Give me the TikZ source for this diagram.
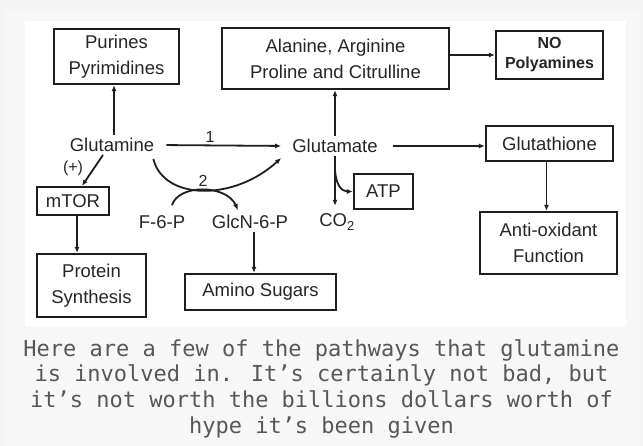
\documentclass[tikz,border=0pt]{standalone}
\usepackage{fontspec}
\setmainfont{Liberation Sans}
\newfontfamily\capfont{DejaVu Sans Mono}
\usepackage{tikz}
\usetikzlibrary{arrows.meta, calc}

\definecolor{pagegrey}{HTML}{F4F4F4}
\definecolor{framegrey}{HTML}{F7F7F7}
\definecolor{inkgrey}{HTML}{262626}
\definecolor{boxline}{HTML}{1E1E1E}
\definecolor{capgrey}{HTML}{575757}
\newcommand\diagfont{\fontsize{18.5}{26}\selectfont}

\begin{document}
\begin{tikzpicture}[x=1pt, y=-1pt]
	% Define styles
	\tikzset{
		box/.style={rectangle, draw=boxline, line width=2.2pt, align=center, inner sep=2pt, font=\diagfont, text=inkgrey},
		metab/.style={font=\diagfont, text=inkgrey, inner sep=3pt},
		tag/.style={font=\fontsize{16}{18}\selectfont, text=inkgrey, inner sep=1pt},
		line/.style={draw=boxline, line width=1.8pt, -{Latex[length=6pt, width=5pt]}},
		caption/.style={font=\capfont\fontsize{22}{25.7}\selectfont, text=capgrey, align=center}
	}

	% Background
	\useasboundingbox (0,0) rectangle (643,446);
	\fill[pagegrey] (0,0) rectangle (643,446);
	\fill[framegrey] (4,10) rectangle (639,446);
	\fill[white] (25,21) rectangle (626,326);

	% Nodes
	\node[box, minimum width=125pt, minimum height=55pt] (purines) at (116.5,56.5) {Purines\\Pyrimidines};
	\node[box, minimum width=227pt, minimum height=61pt] (alanine) at (335.5,58.5) {Alanine, Arginine\\Proline and Citrulline};
	\node[box, minimum width=107pt, minimum height=48pt, font=\bfseries\fontsize{16}{20}\selectfont] (no) at (549.5,55) {NO\\Polyamines};
	\node[box, minimum width=127pt, minimum height=35pt] (glutathione) at (549.5,143.5) {Glutathione};
	\node[box, minimum width=137pt, minimum height=62pt] (antiox) at (548.5,243) {Anti-oxidant\\Function};
	\node[box, minimum width=72pt, minimum height=28pt] (mtor) at (73,201) {mTOR};
	\node[box, minimum width=109pt, minimum height=63pt] (protein) at (91.5,285.5) {Protein\\Synthesis};
	\node[box, minimum width=151pt, minimum height=36pt] (amino) at (260.5,292) {Amino Sugars};
	\node[box, minimum width=59pt, minimum height=35pt] (atp) at (383.5,191.5) {ATP};

	\node[metab] (glutamine) at (112,145) {Glutamine};
	\node[metab] (glutamate) at (335,146) {Glutamate};
	\node[metab] (f6p) at (162,222) {F-6-P};
	\node[metab] (glcn) at (250,222) {GlcN-6-P};
	\node[metab] (co2) at (337,222) {CO\textsubscript{2}};
	\node[tag] (plus) at (73,168) {(+)};

	\node[caption] (note) at (321.5,388.5) {Here are a few of the pathways that glutamine\\is involved in. It’s certainly not bad, but\\it’s not worth the billions dollars worth of\\hype it’s been given};

	% Arrows
	\draw[line] ([xshift=2pt]glutamine.north) -- ([xshift=2pt]glutamine.north |- purines.south);
	\draw[line, shorten <=9pt, shorten >=8pt] (glutamine.east) -- node[tag, pos=0.4, above=1pt] {1} (glutamate.west);
	\draw[line] ([shift={(-4,14)}]glutamine.east) .. controls +(10,41) and +(-48,44) .. node[tag, pos=0.5, above=2pt] {2} ([shift={(-8,12)}]glutamate.west);
	\draw[line] ([shift={(10,-7)}]f6p.north) .. controls +(6,-21) and +(-12,-26) .. ([shift={(-12,-2)}]glcn.north);
	\draw[line] ([xshift=-9pt]glutamine.south) -- ([xshift=9pt]mtor.north);
	\draw[line] ([xshift=4pt]mtor.south) -- ([xshift=4pt]mtor.south |- protein.north);
	\draw[line] ([xshift=4pt]glcn.south) -- ([xshift=4pt]glcn.south |- amino.north);

	\draw[line] (glutamate.north) -- (glutamate.north |- alanine.south);
	\draw[line] (no.west -| alanine.east) -- (no.west);
	\draw[line, shorten <=12pt] (glutamate.east) -- (glutamate.east -| glutathione.west);
	\draw[line] ([xshift=-3pt]glutathione.south) -- ([xshift=-3pt]glutathione.south |- antiox.north);

	\coordinate (fork) at ($(glutamate.south)+(0,14)$);
	\draw[line, shorten >=5pt] (glutamate.south) -- (glutamate.south |- co2.north);
	\draw[line] (fork) .. controls +(1,14) and +(-12,0) .. (atp.west);

\end{tikzpicture}
\end{document}
